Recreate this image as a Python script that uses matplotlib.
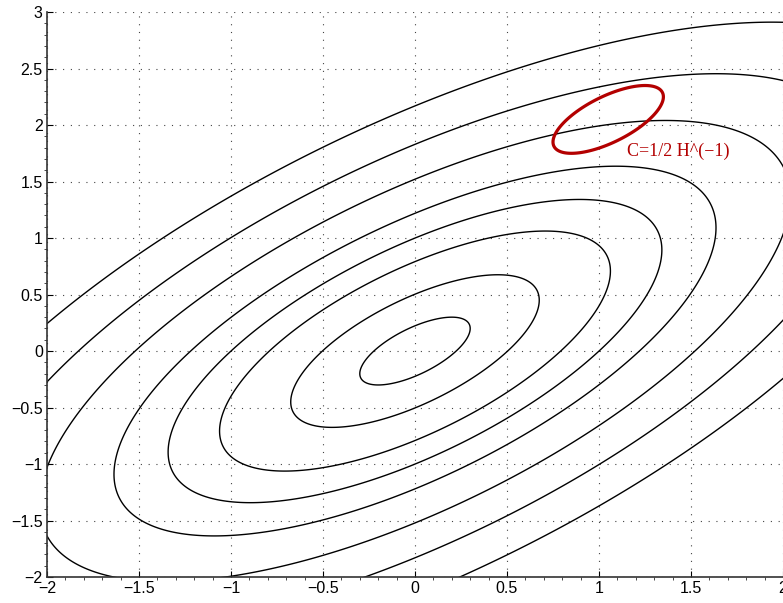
import numpy as np
import matplotlib
matplotlib.use("Agg")
import matplotlib.pyplot as plt
from matplotlib.ticker import MultipleLocator

# quadratic form f(x) = x' H x
H = np.array([[1.5, -1.0],
              [-1.0, 1.5]])
levels = [0.075, 0.38, 0.94, 1.5, 2.23, 3.47, 5.02, 7.06]

# red ellipse: centre and level (same shape as the contours)
red_center = [1.05, 2.05]
red_level = 0.075
red_label = "C=1/2 H^(\u22121)"

x_ticks = [-2, -1.5, -1, -0.5, 0, 0.5, 1, 1.5, 2]
y_ticks = [-2, -1.5, -1, -0.5, 0, 0.5, 1, 1.5, 2, 2.5, 3]


def quad(X, Y, c=(0, 0)):
    dx = X - c[0]
    dy = Y - c[1]
    return H[0, 0] * dx**2 + 2 * H[0, 1] * dx * dy + H[1, 1] * dy**2


plt.rcParams['font.family'] = ['Liberation Sans', 'DejaVu Sans']

fig = plt.figure(figsize=(7.83, 6.03), dpi=100)
ax = fig.add_axes([0.060, 0.043, 0.94, 0.937])

xs = np.linspace(-2.2, 2.2, 600)
ys = np.linspace(-2.2, 3.2, 700)
X, Y = np.meshgrid(xs, ys)

ax.contour(X, Y, quad(X, Y), levels=levels, colors='black', linewidths=1.0)
ax.contour(X, Y, quad(X, Y, red_center), levels=[red_level],
           colors='#b30000', linewidths=2.3)

ax.text(1.15, 1.77, red_label, color='#b30000', fontsize=13,
        family=['Liberation Serif', 'DejaVu Serif'], va='center', ha='left')

ax.set_xlim(-2, 2)
ax.set_ylim(-2, 3)
ax.set_xticks(x_ticks)
ax.set_yticks(y_ticks)
ax.set_xticklabels([f"{v:g}".replace('-', '\u2212') for v in x_ticks])
ax.set_yticklabels([f"{v:g}".replace('-', '\u2212') for v in y_ticks])
ax.xaxis.set_minor_locator(MultipleLocator(0.1))
ax.yaxis.set_minor_locator(MultipleLocator(0.1))
ax.tick_params(which='major', direction='in', length=4, width=0.8, labelsize=11.5, pad=3)
ax.tick_params(which='minor', direction='out', length=2, width=0.5)

ax.grid(True, which='major', linestyle=(0, (1, 6)), color='#444444', linewidth=0.8)
ax.set_axisbelow(True)

for side in ['top', 'right']:
    ax.spines[side].set_visible(False)
for side in ['left', 'bottom']:
    ax.spines[side].set_linewidth(1.2)
    ax.spines[side].set_color('#333333')

fig.savefig("out.png", dpi=100)
